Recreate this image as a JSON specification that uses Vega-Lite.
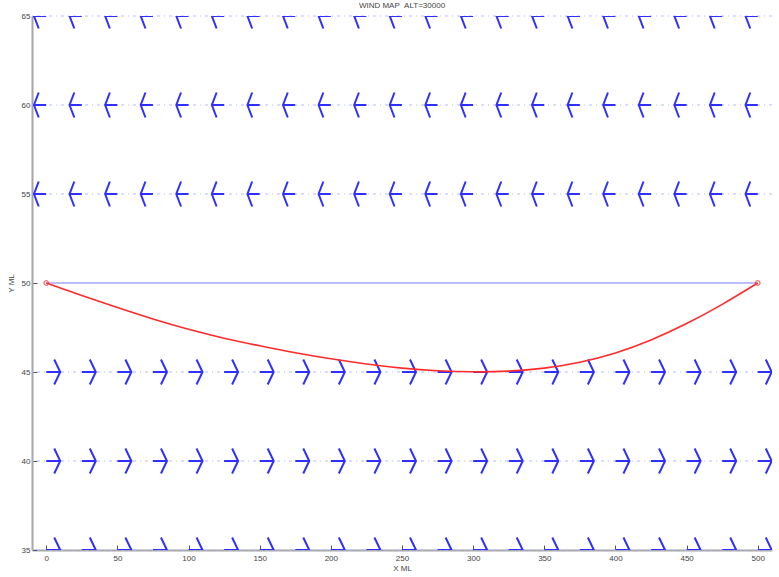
{
  "$schema": "https://vega.github.io/schema/vega-lite/v6.json",
  "width": 740,
  "height": 534,
  "autosize": {"type": "none"},
  "padding": {"left": 32, "top": 16, "right": 7, "bottom": 27},
  "background": "white",
  "config": {
    "view": {"stroke": null},
    "font": "Liberation Sans",
    "axis": {
      "grid": false,
      "domainColor": "#a6a6a6",
      "domainWidth": 2,
      "tickColor": "#555555",
      "tickSize": -5,
      "tickWidth": 1,
      "labelFont": "Liberation Sans",
      "labelFontSize": 8,
      "labelColor": "#444444",
      "titleFont": "Liberation Sans",
      "titleFontSize": 8,
      "titleFontWeight": "normal",
      "titleColor": "#444444"
    }
  },
  "title": {
    "text": "WIND MAP \u00a0ALT=30000",
    "fontSize": 8,
    "fontWeight": "normal",
    "color": "#444444",
    "font": "Liberation Sans",
    "anchor": "middle",
    "offset": 2
  },
  "layer": [
    {
      "data": {"values": [{"y": 35}, {"y": 40}, {"y": 45}, {"y": 55}, {"y": 60}, {"y": 65}]},
      "mark": {"type": "rule", "color": "#b4bbff", "strokeWidth": 1, "strokeDash": [3, 4, 1, 4], "clip": false},
      "encoding": {
        "y": {"field": "y", "type": "quantitative",
              "scale": {"domain": [35, 65], "nice": false, "zero": false},
              "axis": {"values": [35, 40, 45, 50, 55, 60, 65], "title": "Y ML", "labelPadding": 7, "titlePadding": 6}}
      }
    },
    {
      "data": {"values": [
        {"x": 0, "y": 35, "d": "E"}, {"x": 25, "y": 35, "d": "E"}, {"x": 50, "y": 35, "d": "E"}, {"x": 75, "y": 35, "d": "E"}, {"x": 100, "y": 35, "d": "E"}, {"x": 125, "y": 35, "d": "E"}, {"x": 150, "y": 35, "d": "E"}, {"x": 175, "y": 35, "d": "E"}, {"x": 200, "y": 35, "d": "E"}, {"x": 225, "y": 35, "d": "E"}, {"x": 250, "y": 35, "d": "E"}, {"x": 275, "y": 35, "d": "E"}, {"x": 300, "y": 35, "d": "E"}, {"x": 325, "y": 35, "d": "E"}, {"x": 350, "y": 35, "d": "E"}, {"x": 375, "y": 35, "d": "E"}, {"x": 400, "y": 35, "d": "E"}, {"x": 425, "y": 35, "d": "E"}, {"x": 450, "y": 35, "d": "E"}, {"x": 475, "y": 35, "d": "E"}, {"x": 500, "y": 35, "d": "E"},
        {"x": 0, "y": 40, "d": "E"}, {"x": 25, "y": 40, "d": "E"}, {"x": 50, "y": 40, "d": "E"}, {"x": 75, "y": 40, "d": "E"}, {"x": 100, "y": 40, "d": "E"}, {"x": 125, "y": 40, "d": "E"}, {"x": 150, "y": 40, "d": "E"}, {"x": 175, "y": 40, "d": "E"}, {"x": 200, "y": 40, "d": "E"}, {"x": 225, "y": 40, "d": "E"}, {"x": 250, "y": 40, "d": "E"}, {"x": 275, "y": 40, "d": "E"}, {"x": 300, "y": 40, "d": "E"}, {"x": 325, "y": 40, "d": "E"}, {"x": 350, "y": 40, "d": "E"}, {"x": 375, "y": 40, "d": "E"}, {"x": 400, "y": 40, "d": "E"}, {"x": 425, "y": 40, "d": "E"}, {"x": 450, "y": 40, "d": "E"}, {"x": 475, "y": 40, "d": "E"}, {"x": 500, "y": 40, "d": "E"},
        {"x": 0, "y": 45, "d": "E"}, {"x": 25, "y": 45, "d": "E"}, {"x": 50, "y": 45, "d": "E"}, {"x": 75, "y": 45, "d": "E"}, {"x": 100, "y": 45, "d": "E"}, {"x": 125, "y": 45, "d": "E"}, {"x": 150, "y": 45, "d": "E"}, {"x": 175, "y": 45, "d": "E"}, {"x": 200, "y": 45, "d": "E"}, {"x": 225, "y": 45, "d": "E"}, {"x": 250, "y": 45, "d": "E"}, {"x": 275, "y": 45, "d": "E"}, {"x": 300, "y": 45, "d": "E"}, {"x": 325, "y": 45, "d": "E"}, {"x": 350, "y": 45, "d": "E"}, {"x": 375, "y": 45, "d": "E"}, {"x": 400, "y": 45, "d": "E"}, {"x": 425, "y": 45, "d": "E"}, {"x": 450, "y": 45, "d": "E"}, {"x": 475, "y": 45, "d": "E"}, {"x": 500, "y": 45, "d": "E"},
        {"x": 0, "y": 55, "d": "W"}, {"x": 25, "y": 55, "d": "W"}, {"x": 50, "y": 55, "d": "W"}, {"x": 75, "y": 55, "d": "W"}, {"x": 100, "y": 55, "d": "W"}, {"x": 125, "y": 55, "d": "W"}, {"x": 150, "y": 55, "d": "W"}, {"x": 175, "y": 55, "d": "W"}, {"x": 200, "y": 55, "d": "W"}, {"x": 225, "y": 55, "d": "W"}, {"x": 250, "y": 55, "d": "W"}, {"x": 275, "y": 55, "d": "W"}, {"x": 300, "y": 55, "d": "W"}, {"x": 325, "y": 55, "d": "W"}, {"x": 350, "y": 55, "d": "W"}, {"x": 375, "y": 55, "d": "W"}, {"x": 400, "y": 55, "d": "W"}, {"x": 425, "y": 55, "d": "W"}, {"x": 450, "y": 55, "d": "W"}, {"x": 475, "y": 55, "d": "W"}, {"x": 500, "y": 55, "d": "W"},
        {"x": 0, "y": 60, "d": "W"}, {"x": 25, "y": 60, "d": "W"}, {"x": 50, "y": 60, "d": "W"}, {"x": 75, "y": 60, "d": "W"}, {"x": 100, "y": 60, "d": "W"}, {"x": 125, "y": 60, "d": "W"}, {"x": 150, "y": 60, "d": "W"}, {"x": 175, "y": 60, "d": "W"}, {"x": 200, "y": 60, "d": "W"}, {"x": 225, "y": 60, "d": "W"}, {"x": 250, "y": 60, "d": "W"}, {"x": 275, "y": 60, "d": "W"}, {"x": 300, "y": 60, "d": "W"}, {"x": 325, "y": 60, "d": "W"}, {"x": 350, "y": 60, "d": "W"}, {"x": 375, "y": 60, "d": "W"}, {"x": 400, "y": 60, "d": "W"}, {"x": 425, "y": 60, "d": "W"}, {"x": 450, "y": 60, "d": "W"}, {"x": 475, "y": 60, "d": "W"}, {"x": 500, "y": 60, "d": "W"},
        {"x": 0, "y": 65, "d": "W"}, {"x": 25, "y": 65, "d": "W"}, {"x": 50, "y": 65, "d": "W"}, {"x": 75, "y": 65, "d": "W"}, {"x": 100, "y": 65, "d": "W"}, {"x": 125, "y": 65, "d": "W"}, {"x": 150, "y": 65, "d": "W"}, {"x": 175, "y": 65, "d": "W"}, {"x": 200, "y": 65, "d": "W"}, {"x": 225, "y": 65, "d": "W"}, {"x": 250, "y": 65, "d": "W"}, {"x": 275, "y": 65, "d": "W"}, {"x": 300, "y": 65, "d": "W"}, {"x": 325, "y": 65, "d": "W"}, {"x": 350, "y": 65, "d": "W"}, {"x": 375, "y": 65, "d": "W"}, {"x": 400, "y": 65, "d": "W"}, {"x": 425, "y": 65, "d": "W"}, {"x": 450, "y": 65, "d": "W"}, {"x": 475, "y": 65, "d": "W"}, {"x": 500, "y": 65, "d": "W"}
      ]},
      "mark": {"type": "point", "filled": false, "color": "#2f2fff", "strokeWidth": 2, "size": 625, "opacity": 1, "clip": true},
      "encoding": {
        "x": {"field": "x", "type": "quantitative",
              "scale": {"domain": [-10, 510], "nice": false, "zero": false},
              "axis": {"values": [0, 50, 100, 150, 200, 250, 300, 350, 400, 450, 500], "title": "X ML", "labelPadding": 9, "titlePadding": 2}},
        "y": {"field": "y", "type": "quantitative", "scale": {"domain": [35, 65], "nice": false, "zero": false}},
        "shape": {"field": "d", "type": "nominal", "legend": null,
                  "scale": {"domain": ["E", "W"], "range": ["M0,0L1.12,0M0.64,-1L1.12,0L0.64,1", "M0,0L-0.98,0M-0.6,-1L-0.98,0L-0.6,1"]}}
      }
    },
    {
      "data": {"values": [{"x": 0, "y": 50}, {"x": 500, "y": 50}]},
      "mark": {"type": "line", "color": "#7a7aff", "strokeWidth": 1.2},
      "encoding": {
        "x": {"field": "x", "type": "quantitative"},
        "y": {"field": "y", "type": "quantitative"}
      }
    },
    {
      "data": {"values": [
        {"x": 0, "y": 50}, {"x": 25, "y": 49.3}, {"x": 50, "y": 48.62}, {"x": 75, "y": 47.98}, {"x": 100, "y": 47.4},
        {"x": 125, "y": 46.9}, {"x": 150, "y": 46.47}, {"x": 175, "y": 46.08}, {"x": 200, "y": 45.74}, {"x": 225, "y": 45.45},
        {"x": 250, "y": 45.22}, {"x": 275, "y": 45.07}, {"x": 300, "y": 45.01}, {"x": 325, "y": 45.05}, {"x": 350, "y": 45.22},
        {"x": 375, "y": 45.55}, {"x": 400, "y": 46.07}, {"x": 425, "y": 46.8}, {"x": 450, "y": 47.72}, {"x": 475, "y": 48.8},
        {"x": 500, "y": 50}
      ]},
      "mark": {"type": "line", "color": "#ff2a2a", "strokeWidth": 1.6, "interpolate": "natural"},
      "encoding": {
        "x": {"field": "x", "type": "quantitative"},
        "y": {"field": "y", "type": "quantitative"}
      }
    },
    {
      "data": {"values": [{"x": 0, "y": 50}, {"x": 500, "y": 50}]},
      "mark": {"type": "point", "filled": false, "color": "#ff3a3a", "size": 22, "strokeWidth": 1, "opacity": 1},
      "encoding": {
        "x": {"field": "x", "type": "quantitative"},
        "y": {"field": "y", "type": "quantitative"}
      }
    }
  ]
}
